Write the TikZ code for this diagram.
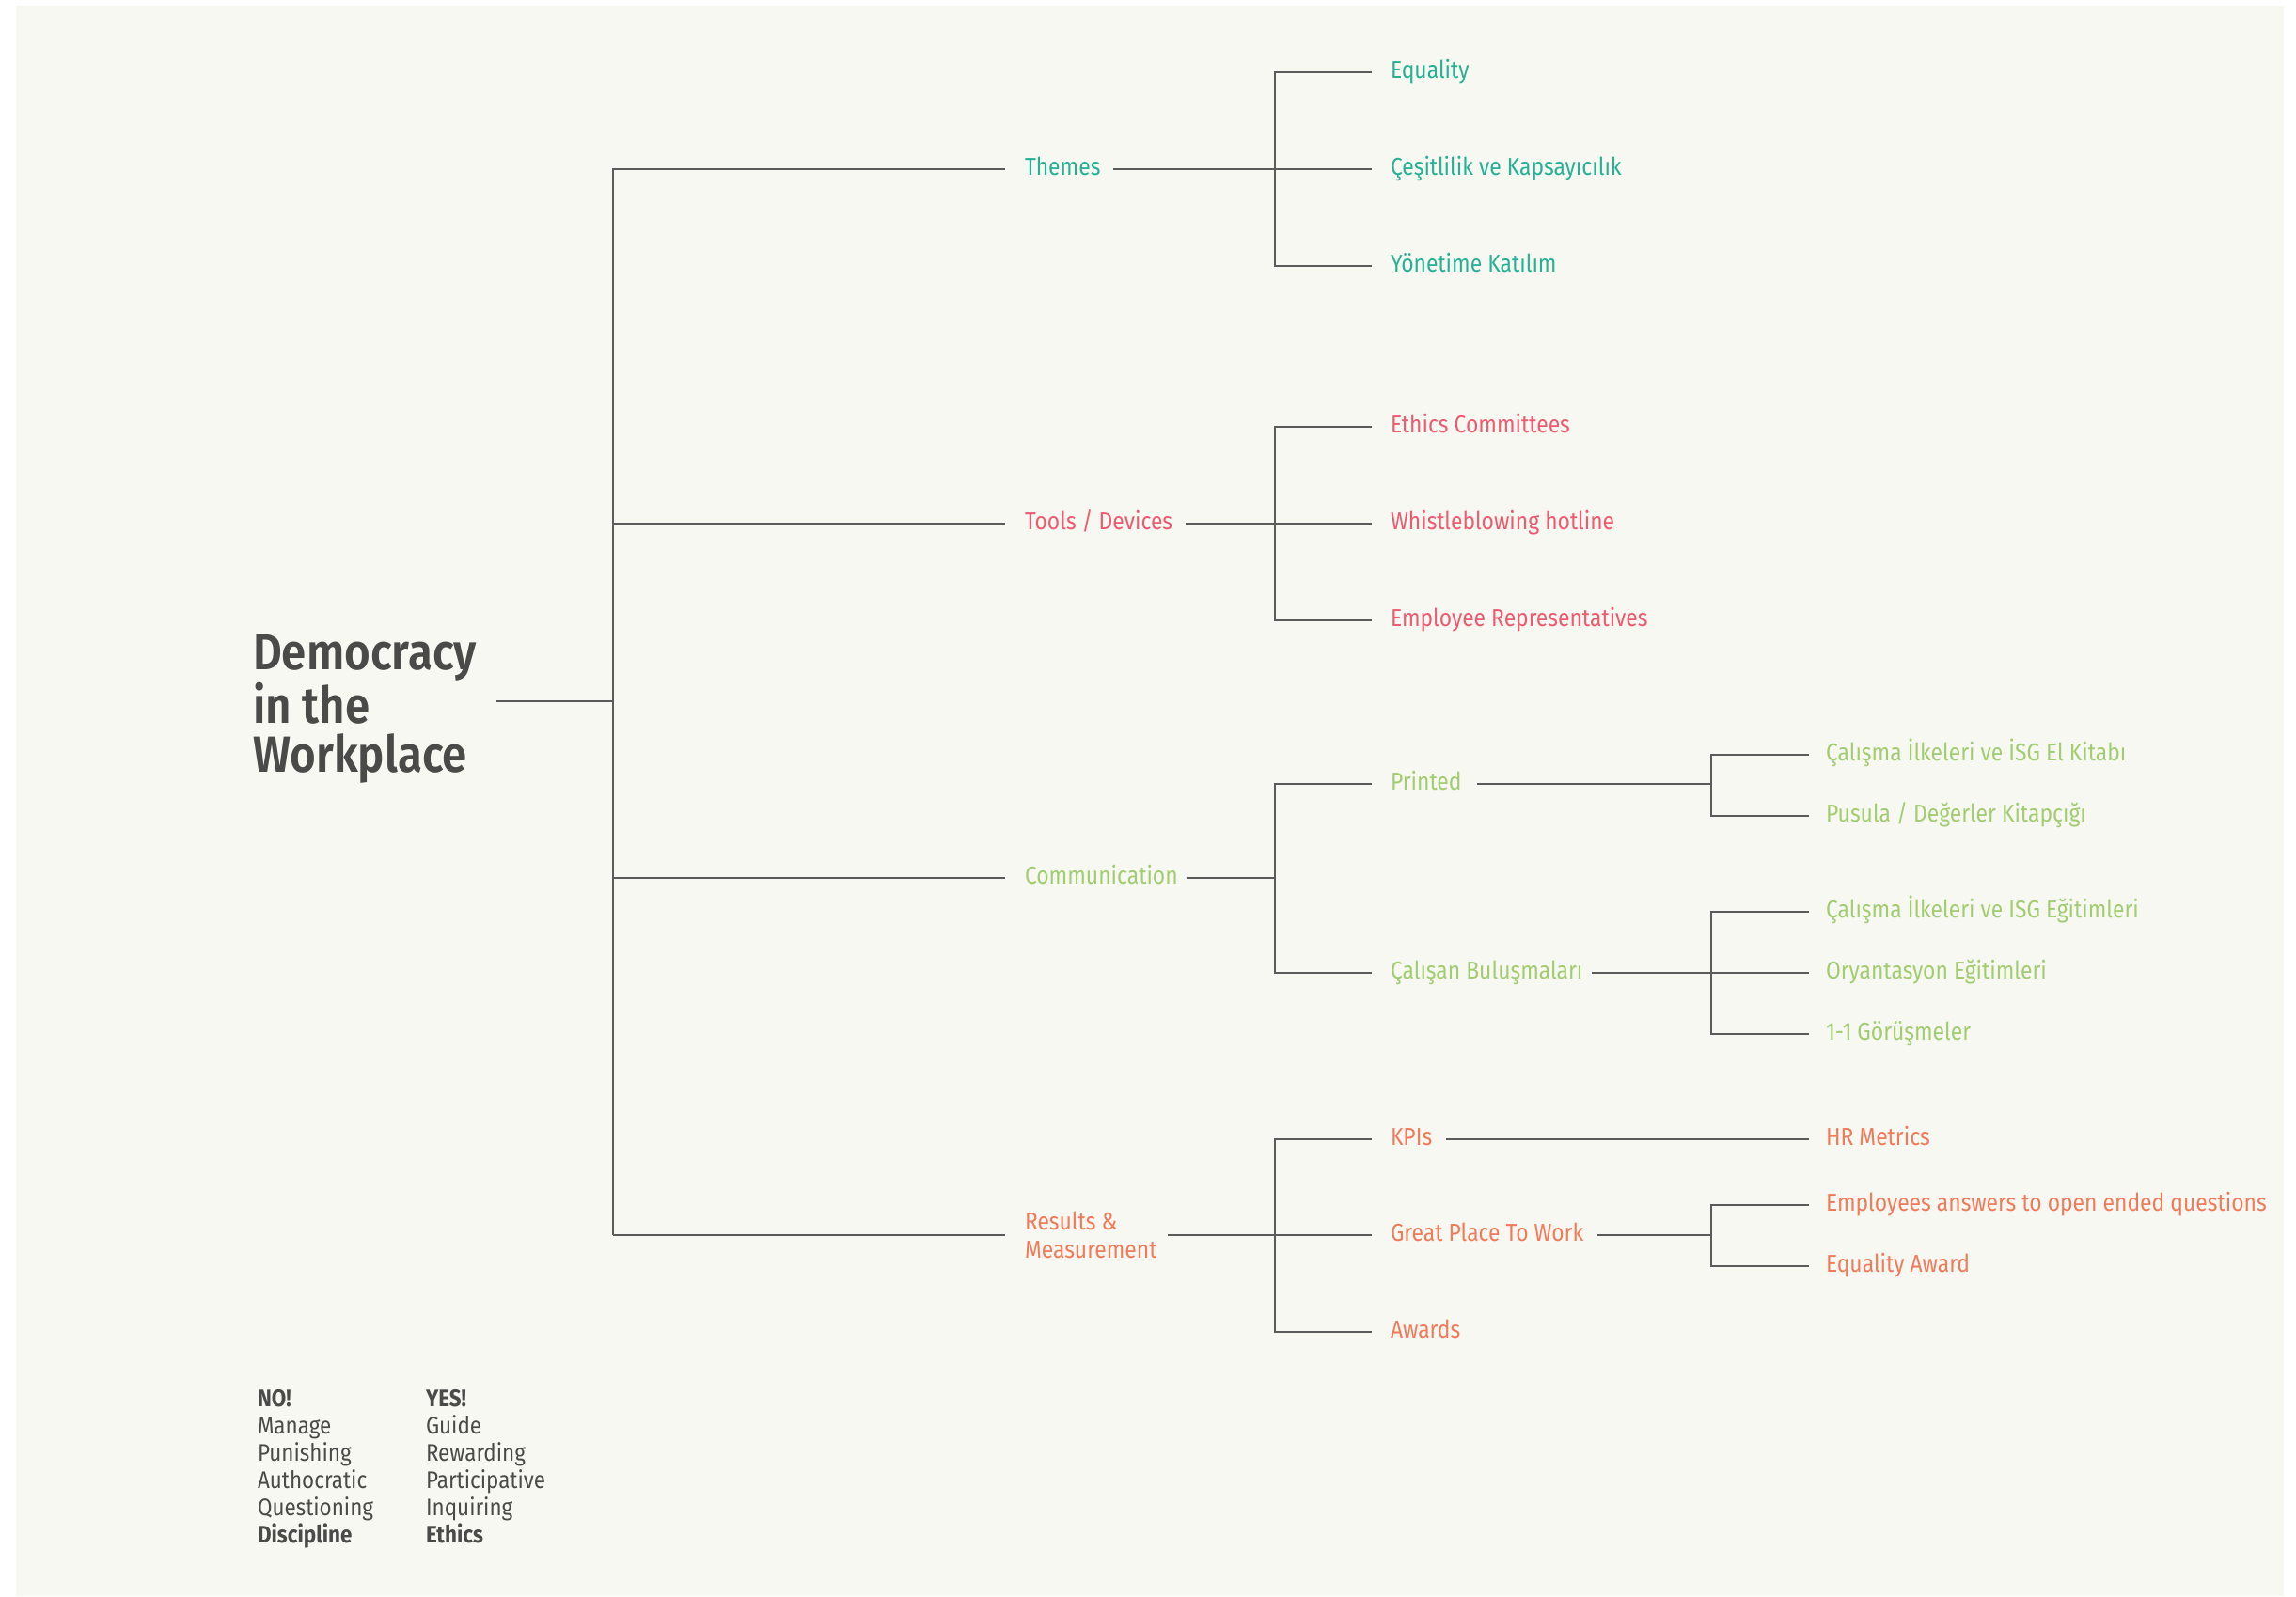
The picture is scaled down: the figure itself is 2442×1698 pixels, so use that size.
\documentclass[tikz,border=0pt]{standalone}
\usepackage{fontspec}
\setmainfont{Fira Sans}[FakeStretch=0.88]
\newfontfamily\semifont{Fira Sans SemiBold}[FakeStretch=0.88]
\definecolor{bgc}{HTML}{F6F8F1}
\definecolor{teal}{HTML}{26B096}
\definecolor{pinkc}{HTML}{EE5A70}
\definecolor{greenc}{HTML}{A2CC70}
\definecolor{orangec}{HTML}{F27A5A}
\definecolor{titlec}{HTML}{4A4A48}
\definecolor{linec}{HTML}{5B5B5B}
\begin{document}
\begin{tikzpicture}[x=1pt,y=-1pt,
  every node/.style={inner sep=0pt,outer sep=0pt},
  lbl/.style={anchor=base west,font=\fontsize{26}{30}\selectfont},
  leg/.style={anchor=north west,align=left,text=titlec,font=\fontsize{25.5}{29}\selectfont},
  conn/.style={draw=linec,line width=1.6pt},
  inl/.style={xshift=-20pt,yshift=6.5pt},
  inl3/.style={xshift=-18pt,yshift=6.5pt},
  outr/.style={xshift=#1,yshift=6.5pt}]
\useasboundingbox (0,0) rectangle (2442,1698);
\fill[white] (0,0) rectangle (2442,1698);
\fill[bgc] (17,6) rectangle (2429,1698);

% title
\node[anchor=north west,align=left,text=titlec,font=\semifont\fontsize{54}{52.5}\selectfont] (title) at (269,675.5) {Democracy\\in the\\Workplace};

% junction coordinates
\coordinate (j0) at (652,746);
\coordinate (sT) at (652,180);
\coordinate (sR) at (652,1314);
\coordinate (gT) at (1356,180);
\coordinate (gTo) at (1356,557);
\coordinate (gC) at (1356,934);
\coordinate (gR) at (1356,1314);
\coordinate (gP) at (1820,834);
\coordinate (gCb) at (1820,1035);
\coordinate (gG) at (1820,1314);

% level 1 (baseline = line + 6.5)
\node[lbl,text=teal] (themes) at (1090,186.5) {Themes};
\node[lbl,text=pinkc] (tools) at (1090,563.5) {Tools / Devices};
\node[lbl,text=greenc] (comm) at (1090,940.5) {Communication};
\node[anchor=west,align=left,text=orangec,font=\fontsize{26}{30}\selectfont] (results) at (1090,1314) {Results \&\\Measurement};

% level 2
\node[lbl,text=teal] (equality) at (1479,83.5) {Equality};
\node[lbl,text=teal] (cesit) at (1479,186.5) {Çeşitlilik ve Kapsayıcılık};
\node[lbl,text=teal] (yonetim) at (1479,289.5) {Yönetime Katılım};
\node[lbl,text=pinkc] (ethics) at (1479,460.5) {Ethics Committees};
\node[lbl,text=pinkc] (whistle) at (1479,563.5) {Whistleblowing hotline};
\node[lbl,text=pinkc] (emprep) at (1479,666.5) {Employee Representatives};
\node[lbl,text=greenc] (printed) at (1479,840.5) {Printed};
\node[lbl,text=greenc] (calisan) at (1479,1041.5) {Çalışan Buluşmaları};
\node[lbl,text=orangec] (kpis) at (1479,1218.5) {KPIs};
\node[lbl,text=orangec] (gptw) at (1479,1320.5) {Great Place To Work};
\node[lbl,text=orangec] (awards) at (1479,1423.5) {Awards};

% level 3
\node[lbl,text=greenc] (calisma1) at (1942,809.5) {Çalışma İlkeleri ve İSG El Kitabı};
\node[lbl,text=greenc] (pusula) at (1942,874.5) {Pusula / Değerler Kitapçığı};
\node[lbl,text=greenc] (calisma2) at (1942,976.5) {Çalışma İlkeleri ve ISG Eğitimleri};
\node[lbl,text=greenc] (oryant) at (1942,1041.5) {Oryantasyon Eğitimleri};
\node[lbl,text=greenc] (gorusme) at (1942,1106.5) {1-1 Görüşmeler};
\node[lbl,text=orangec] (hrm) at (1942,1218.5) {HR Metrics};
\node[lbl,text=orangec] (empans) at (1942,1288.5) {Employees answers to open ended questions};
\node[lbl,text=orangec] (eqaward) at (1942,1353.5) {Equality Award};

% legend
\node[leg] (no) at (274,1478) {\textbf{NO!}\\Manage\\Punishing\\Authocratic\\Questioning\\\textbf{Discipline}};
\node[leg] (yes) at (453,1478) {\textbf{YES!}\\Guide\\Rewarding\\Participative\\Inquiring\\\textbf{Ethics}};

% main spine
\draw[conn] (title.east |- j0) ++(21,0) -- (j0);
\draw[conn] ([xshift=-21pt,yshift=6.5pt]themes.base west) -| (sT) -- (sR);
\draw[conn] ([xshift=-21pt,yshift=6.5pt]tools.base west) -| (sT);
\draw[conn] ([xshift=-21pt,yshift=6.5pt]comm.base west) -| (sT);
\draw[conn] ([xshift=-21pt]results.west) -| (sR);

% themes group
\draw[conn] ([outr=14pt]themes.base east) -- (gT);
\draw[conn] ([inl]equality.base west) -| (gT);
\draw[conn] ([inl]cesit.base west) -- (gT);
\draw[conn] ([inl]yonetim.base west) -| (gT);

% tools group
\draw[conn] ([outr=14pt]tools.base east) -- (gTo);
\draw[conn] ([inl]ethics.base west) -| (gTo);
\draw[conn] ([inl]whistle.base west) -- (gTo);
\draw[conn] ([inl]emprep.base west) -| (gTo);

% communication group
\draw[conn] ([outr=10pt]comm.base east) -- (gC);
\draw[conn] ([inl]printed.base west) -| (gC);
\draw[conn] ([inl]calisan.base west) -| (gC);
\draw[conn] ([outr=16pt]printed.base east) -- (gP);
\draw[conn] ([inl3]calisma1.base west) -| (gP);
\draw[conn] ([inl3]pusula.base west) -| (gP);
\draw[conn] ([outr=10pt]calisan.base east) -- (gCb);
\draw[conn] ([inl3]calisma2.base west) -| (gCb);
\draw[conn] ([inl3]oryant.base west) -- (gCb);
\draw[conn] ([inl3]gorusme.base west) -| (gCb);

% results group
\draw[conn] ([xshift=11pt]results.east) -- (gR);
\draw[conn] ([inl]kpis.base west) -| (gR);
\draw[conn] ([inl]gptw.base west) -- (gR);
\draw[conn] ([inl]awards.base west) -| (gR);
\draw[conn] ([outr=15pt]kpis.base east) -- ([inl3]hrm.base west);
\draw[conn] ([outr=15pt]gptw.base east) -- (gG);
\draw[conn] ([inl3]empans.base west) -| (gG);
\draw[conn] ([inl3]eqaward.base west) -| (gG);
\end{tikzpicture}
\end{document}
